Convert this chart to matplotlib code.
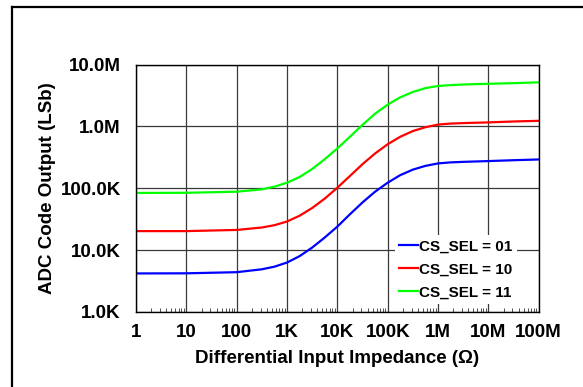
import numpy as np
from matplotlib import pyplot as plt
from matplotlib.ticker import FixedLocator, LogLocator, NullFormatter

plt.rcParams['font.family'] = ['Liberation Sans', 'DejaVu Sans']
plt.rcParams['font.weight'] = 'bold'

# impedance (ohm)
impedance = [1, 10, 100, 316, 562, 1e3, 1.78e3, 3.16e3, 5.62e3, 1e4, 1.78e4, 3.16e4,
             5.62e4, 1e5, 1.78e5, 3.16e5, 5.62e5, 1e6, 1.78e6, 3.16e6, 5.62e6, 1e7, 3.16e7, 1e8]
sel_01 = [4.2e3, 4.22e3, 4.4e3, 4.9e3, 5.4e3, 6.3e3, 8e3, 11e3, 16e3, 24e3, 38e3, 59e3,
          88e3, 123e3, 163e3, 200e3, 230e3, 252e3, 262e3, 267e3, 271e3, 275e3, 284e3, 292e3]
sel_10 = [20.3e3, 20.3e3, 21.2e3, 23.2e3, 25.3e3, 29e3, 36e3, 48e3, 68e3, 102e3, 158e3, 245e3,
          365e3, 515e3, 680e3, 840e3, 970e3, 1.07e6, 1.11e6, 1.13e6, 1.145e6, 1.16e6, 1.2e6, 1.23e6]
sel_11 = [84e3, 84.5e3, 88e3, 96e3, 106e3, 123e3, 152e3, 205e3, 295e3, 440e3, 680e3, 1.06e6,
          1.6e6, 2.25e6, 2.95e6, 3.6e6, 4.15e6, 4.5e6, 4.65e6, 4.75e6, 4.82e6, 4.88e6, 5.0e6, 5.15e6]

x_ticks = [1, 10, 100, 1e3, 1e4, 1e5, 1e6, 1e7, 1e8]
x_labels = ['1', '10', '100', '1K', '10K', '100K', '1M', '10M', '100M']
y_ticks = [1e3, 1e4, 1e5, 1e6, 1e7]
y_labels = ['1.0K', '10.0K', '100.0K', '1.0M', '10.0M']

fig = plt.figure(figsize=(5.83, 3.87), dpi=100)
ax = fig.add_axes([0.2333, 0.1938, 0.6907, 0.6395])

ax.plot(impedance, sel_01, color='#0000ff', lw=1.6, label='CS_SEL = 01')
ax.plot(impedance, sel_10, color='#ff0000', lw=1.6, label='CS_SEL = 10')
ax.plot(impedance, sel_11, color='#00ff00', lw=1.6, label='CS_SEL = 11')

ax.set_xscale('log')
ax.set_yscale('log')
ax.set_xlim(1, 1e8)
ax.set_ylim(1e3, 1e7)
ax.set_xticks(x_ticks)
ax.set_xticklabels(x_labels)
ax.set_yticks(y_ticks)
ax.set_yticklabels(y_labels)
ax.xaxis.set_minor_locator(LogLocator(base=10, subs=np.arange(2, 10), numticks=20))
ax.xaxis.set_minor_formatter(NullFormatter())
ax.yaxis.set_minor_locator(FixedLocator([]))
ax.tick_params(axis='both', which='major', length=0, labelsize=13.5)
ax.tick_params(axis='x', which='major', pad=9)
ax.tick_params(axis='y', which='major', pad=11)
ax.tick_params(axis='x', which='minor', direction='in', length=3, width=0.6, color='#333333')
ax.grid(True, which='major', color='#3a3a3a', lw=0.9)
for s in ax.spines.values():
    s.set_linewidth(1.0)

ax.set_xlabel('Differential Input Impedance (\u03a9)', fontsize=13.5, fontweight='bold', labelpad=6)
ax.set_ylabel('ADC Code Output (LSb)', fontsize=13.5, fontweight='bold', labelpad=3)

leg = ax.legend(loc='lower right', bbox_to_anchor=(0.965, 0.0), fontsize=11,
                handlelength=1.2, handletextpad=0.1, labelspacing=0.6,
                borderpad=0.3, frameon=True, fancybox=False, framealpha=1)
leg.get_frame().set_edgecolor('none')
leg.get_frame().set_facecolor('white')

# outer frame
fig.add_artist(plt.Line2D([12 / 583, 12 / 583], [0, 1 - 7 / 387], color='black', lw=1.6))
fig.add_artist(plt.Line2D([12 / 583, 1], [1 - 7 / 387, 1 - 7 / 387], color='black', lw=1.6))

plt.savefig('out.png', dpi=100)
